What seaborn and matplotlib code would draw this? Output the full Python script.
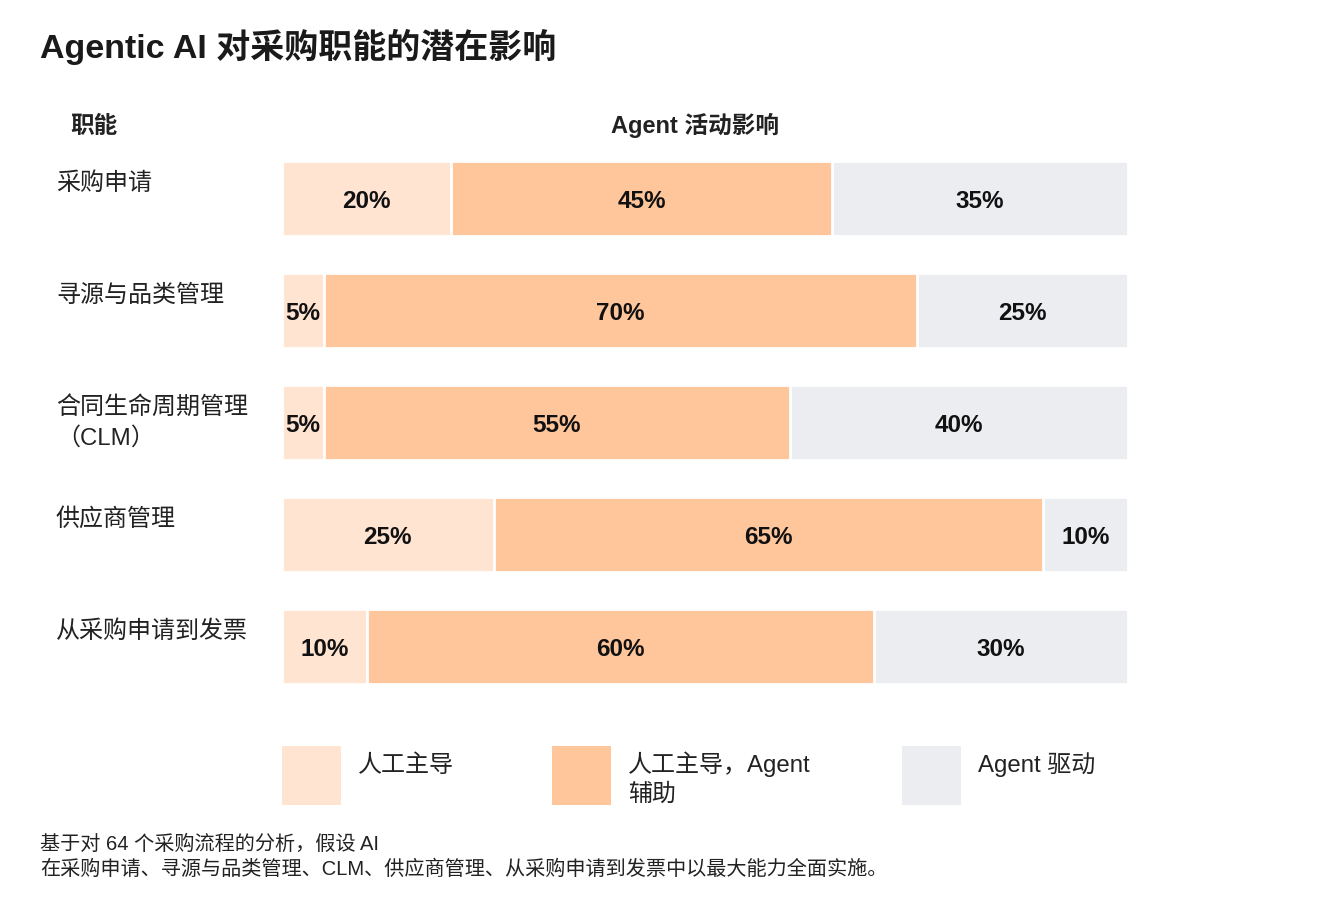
import numpy as np
import pandas as pd
import matplotlib
matplotlib.use('Agg')
import matplotlib.pyplot as plt
import matplotlib.transforms as mtransforms
from matplotlib.patches import Rectangle
import seaborn as sns

# data
functions = ['采购申请', '寻源与品类管理', '合同生命周期管理\n（CLM）', '供应商管理', '从采购申请到发票']
human_led = [20, 5, 5, 25, 10]
agent_assisted = [45, 70, 55, 65, 60]
agent_driven = [35, 25, 40, 10, 30]
series_names = ['人工主导', '人工主导，Agent\n辅助', 'Agent 驱动']
series_colors = ['#FFE4D2', '#FFC69C', '#ECEDF1']

title = 'Agentic AI 对采购职能的潜在影响'
col_left = '职能'
col_right = 'Agent 活动影响'
footnote = '基于对 64 个采购流程的分析，假设 AI\n在采购申请、寻源与品类管理、CLM、供应商管理、从采购申请到发票中以最大能力全面实施。'

df = pd.DataFrame({'function': functions, 'h': human_led, 'a': agent_assisted, 'd': agent_driven})
df['cum1'] = df['h']
df['cum2'] = df['h'] + df['a']
df['cum3'] = df['h'] + df['a'] + df['d']

sns.set_theme(style='white')
plt.rcParams['font.family'] = ['Liberation Sans', 'Noto Sans CJK SC']

W, H = 1320, 900
fig = plt.figure(figsize=(W / 100, H / 100), dpi=100)
ax = fig.add_axes([282 / W, 1 - 684 / H, (1128 - 282) / W, (684 - 161) / H])

bar_w = 75 / 112
# stacked by overlapping cumulative totals, widest first
for col, c in zip(['cum3', 'cum2', 'cum1'], series_colors[::-1]):
    sns.barplot(data=df, x=col, y='function', orient='h', color=c, width=bar_w,
                edgecolor='white', linewidth=2, saturation=1, ax=ax)

ax.set_xlim(0, 100)
ax.set_ylim(4 + bar_w / 2, -bar_w / 2)
ax.axis('off')

# value labels
for i, row in df.iterrows():
    lefts = [0, row['cum1'], row['cum2']]
    vals = [row['h'], row['a'], row['d']]
    for l, v in zip(lefts, vals):
        ax.text(l + v / 2, i, f'{v}%', ha='center', va='center_baseline',
                fontsize=17.5, fontweight='bold', color='#111111')


def put_lines(x_px, y_px, text, size, step, **kw):
    # place each line on its own baseline (pixel coords from the top)
    for k, line in enumerate(text.split('\n')):
        fig.text(x_px / W, 1 - (y_px + k * step) / H, line, ha='left', va='baseline',
                 fontsize=size, **kw)


# row labels: first baseline ~29px below bar top
for i, name in enumerate(functions):
    top_px = 161 + i * 112
    put_lines(56, top_px + 29, name, 17.3, 31, color='#222222')

# headers
fig.text(40 / W, 1 - 58 / H, title, ha='left', va='baseline', fontsize=24.5,
         fontweight='bold', color='#1a1a1a')
fig.text(94 / W, 1 - 133 / H, col_left, ha='center', va='baseline', fontsize=17,
         fontweight='bold', color='#222222')
fig.text(695 / W, 1 - 133 / H, col_right, ha='center', va='baseline', fontsize=17,
         fontweight='bold', color='#222222')

# legend
leg_x = [282, 552, 902]
for x0, name, c in zip(leg_x, series_names, series_colors):
    fig.add_artist(Rectangle((x0 / W, 1 - 805 / H), 59 / W, 59 / H,
                             transform=fig.transFigure, facecolor=c, edgecolor='none'))
    put_lines(x0 + 76, 772, name, 17.3, 29, color='#222222')

# footnote
put_lines(40, 850, footnote, 14.5, 25, color='#222222')

fig.savefig('out.png', dpi=100, facecolor='white')
